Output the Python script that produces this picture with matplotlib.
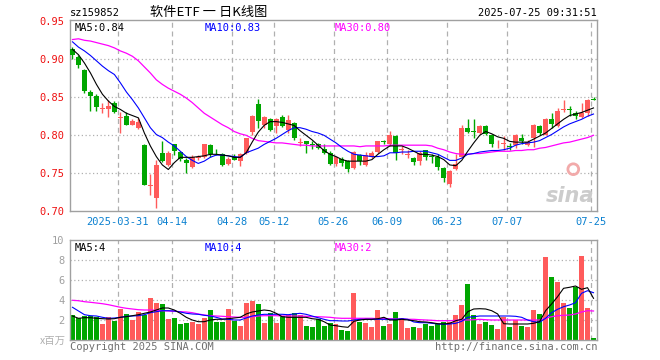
import matplotlib
matplotlib.use('Agg')
import matplotlib.pyplot as plt
import numpy as np

# 软件ETF sz159852, daily candles 2025-03-19 .. 2025-07-25
opens = [0.914, 0.903, 0.886, 0.857, 0.852, 0.835, 0.835, 0.842, 0.823, 0.826,
         0.814, 0.809, 0.787, 0.733, 0.718, 0.777, 0.761, 0.788, 0.778, 0.768,
         0.758, 0.770, 0.771, 0.787, 0.780, 0.775, 0.762, 0.772, 0.766, 0.777,
         0.804, 0.841, 0.813, 0.821, 0.812, 0.824, 0.807, 0.816, 0.790, 0.792,
         0.788, 0.789, 0.782, 0.777, 0.762, 0.769, 0.766, 0.757, 0.774, 0.761,
         0.771, 0.778, 0.793, 0.788, 0.799, 0.781, 0.774, 0.770, 0.766, 0.780,
         0.773, 0.772, 0.757, 0.736, 0.756, 0.772, 0.809, 0.805, 0.803, 0.812,
         0.801, 0.788, 0.789, 0.786, 0.787, 0.797, 0.787, 0.797, 0.812, 0.801,
         0.822, 0.812, 0.833, 0.835, 0.829, 0.824, 0.829, 0.848]
highs = [0.916, 0.905, 0.887, 0.860, 0.854, 0.843, 0.847, 0.845, 0.831, 0.831,
         0.821, 0.823, 0.788, 0.749, 0.768, 0.792, 0.779, 0.789, 0.779, 0.770,
         0.774, 0.774, 0.789, 0.789, 0.782, 0.777, 0.771, 0.775, 0.777, 0.797,
         0.827, 0.848, 0.826, 0.823, 0.823, 0.827, 0.827, 0.818, 0.796, 0.793,
         0.792, 0.790, 0.788, 0.779, 0.772, 0.771, 0.767, 0.779, 0.775, 0.778,
         0.779, 0.793, 0.794, 0.805, 0.801, 0.786, 0.780, 0.771, 0.779, 0.781,
         0.775, 0.775, 0.758, 0.755, 0.775, 0.814, 0.821, 0.821, 0.814, 0.813,
         0.802, 0.794, 0.799, 0.790, 0.802, 0.802, 0.794, 0.815, 0.813, 0.823,
         0.829, 0.836, 0.846, 0.838, 0.832, 0.843, 0.848, 0.850]
lows = [0.900, 0.888, 0.856, 0.832, 0.832, 0.830, 0.824, 0.829, 0.803, 0.813,
        0.813, 0.808, 0.734, 0.721, 0.705, 0.765, 0.759, 0.774, 0.766, 0.750,
        0.757, 0.768, 0.770, 0.772, 0.774, 0.760, 0.761, 0.767, 0.759, 0.775,
        0.800, 0.809, 0.810, 0.805, 0.803, 0.811, 0.803, 0.794, 0.786, 0.777,
        0.782, 0.782, 0.775, 0.761, 0.760, 0.759, 0.752, 0.756, 0.761, 0.760,
        0.770, 0.777, 0.788, 0.786, 0.768, 0.775, 0.770, 0.761, 0.761, 0.768,
        0.764, 0.755, 0.739, 0.732, 0.755, 0.771, 0.803, 0.797, 0.802, 0.800,
        0.784, 0.783, 0.780, 0.781, 0.783, 0.789, 0.786, 0.784, 0.801, 0.800,
        0.810, 0.811, 0.831, 0.825, 0.821, 0.823, 0.826, 0.846]
closes = [0.905, 0.893, 0.858, 0.852, 0.837, 0.836, 0.838, 0.831, 0.824, 0.814,
          0.819, 0.818, 0.735, 0.734, 0.761, 0.766, 0.777, 0.779, 0.769, 0.763,
          0.772, 0.772, 0.788, 0.775, 0.779, 0.761, 0.769, 0.768, 0.775, 0.796,
          0.826, 0.819, 0.824, 0.807, 0.821, 0.812, 0.820, 0.796, 0.791, 0.789,
          0.787, 0.783, 0.777, 0.762, 0.771, 0.764, 0.756, 0.778, 0.766, 0.774,
          0.777, 0.792, 0.791, 0.800, 0.777, 0.782, 0.775, 0.765, 0.777, 0.772,
          0.772, 0.758, 0.744, 0.753, 0.762, 0.809, 0.804, 0.804, 0.812, 0.802,
          0.789, 0.789, 0.790, 0.785, 0.800, 0.793, 0.791, 0.813, 0.803, 0.822,
          0.815, 0.832, 0.834, 0.833, 0.826, 0.829, 0.847, 0.847]

ma5 = [0.913, 0.906, 0.895, 0.882, 0.867, 0.854, 0.845, 0.838, 0.834, 0.829,
       0.826, 0.823, 0.803, 0.786, 0.772, 0.761, 0.755, 0.764, 0.771, 0.771,
       0.771, 0.772, 0.773, 0.775, 0.775, 0.774, 0.773, 0.771, 0.771, 0.777,
       0.791, 0.804, 0.813, 0.818, 0.818, 0.817, 0.815, 0.813, 0.806, 0.800,
       0.794, 0.787, 0.780, 0.775, 0.772, 0.768, 0.766, 0.766, 0.766, 0.766,
       0.768, 0.775, 0.781, 0.786, 0.786, 0.786, 0.783, 0.779, 0.775, 0.775,
       0.774, 0.772, 0.768, 0.761, 0.760, 0.767, 0.779, 0.790, 0.800, 0.805,
       0.802, 0.798, 0.796, 0.792, 0.791, 0.791, 0.791, 0.795, 0.799, 0.803,
       0.809, 0.815, 0.821, 0.826, 0.828, 0.830, 0.833, 0.836]
ma10 = [0.923, 0.916, 0.911, 0.905, 0.898, 0.891, 0.885, 0.880, 0.869, 0.857,
        0.847, 0.836, 0.823, 0.810, 0.801, 0.797, 0.791, 0.786, 0.779, 0.772,
        0.767, 0.763, 0.766, 0.771, 0.774, 0.774, 0.773, 0.772, 0.771, 0.777,
        0.780, 0.783, 0.788, 0.792, 0.796, 0.801, 0.806, 0.810, 0.810, 0.808,
        0.805, 0.803, 0.800, 0.795, 0.790, 0.784, 0.779, 0.775, 0.774, 0.773,
        0.772, 0.772, 0.773, 0.777, 0.777, 0.778, 0.778, 0.779, 0.779, 0.779,
        0.777, 0.775, 0.771, 0.767, 0.767, 0.770, 0.775, 0.776, 0.778, 0.779,
        0.780, 0.780, 0.781, 0.783, 0.787, 0.789, 0.790, 0.791, 0.793, 0.797,
        0.801, 0.806, 0.811, 0.815, 0.818, 0.821, 0.825, 0.828]
ma30 = [0.926, 0.927, 0.925, 0.924, 0.922, 0.920, 0.918, 0.915, 0.911, 0.908,
        0.904, 0.898, 0.890, 0.882, 0.873, 0.867, 0.862, 0.858, 0.854, 0.849,
        0.843, 0.836, 0.829, 0.824, 0.819, 0.814, 0.810, 0.805, 0.802, 0.800,
        0.796, 0.793, 0.792, 0.791, 0.790, 0.790, 0.789, 0.788, 0.787, 0.787,
        0.786, 0.786, 0.786, 0.786, 0.786, 0.786, 0.786, 0.786, 0.785, 0.786,
        0.786, 0.786, 0.786, 0.787, 0.787, 0.787, 0.787, 0.787, 0.787, 0.787,
        0.786, 0.783, 0.781, 0.778, 0.776, 0.775, 0.775, 0.776, 0.776, 0.777,
        0.778, 0.779, 0.779, 0.779, 0.780, 0.780, 0.781, 0.781, 0.783, 0.784,
        0.786, 0.788, 0.790, 0.791, 0.793, 0.795, 0.797, 0.800]

# volume, x 百万
vol = [2.50, 2.17, 2.40, 2.40, 2.33, 1.60, 2.27, 1.93, 3.10, 2.57,
       2.00, 2.83, 2.50, 4.17, 3.73, 3.60, 2.07, 2.23, 1.60, 1.67,
       1.83, 1.60, 2.17, 3.00, 1.83, 1.83, 3.10, 1.93, 1.40, 3.73,
       3.90, 3.60, 1.67, 2.67, 1.67, 2.40, 2.50, 2.67, 2.50, 1.40,
       1.27, 2.07, 1.40, 1.67, 1.57, 1.00, 0.90, 4.73, 1.83, 1.73,
       1.33, 3.00, 1.40, 1.60, 2.80, 2.17, 1.23, 1.30, 1.20, 1.57,
       1.40, 1.57, 1.83, 1.83, 2.50, 3.50, 5.60, 2.50, 1.60, 1.80,
       1.50, 1.10, 2.33, 1.30, 2.00, 1.40, 1.30, 3.00, 2.60, 8.33,
       6.30, 5.80, 3.70, 3.23, 5.30, 8.40, 3.20, 0.20]
vma5 = [2.40, 2.17, 2.23, 2.23, 2.17, 2.13, 2.10, 2.13, 2.27, 2.33,
        2.43, 2.53, 2.67, 2.80, 3.00, 3.20, 3.20, 3.00, 2.67, 2.27,
        2.00, 1.83, 1.83, 2.00, 2.07, 2.07, 2.13, 2.20, 2.27, 2.60,
        2.80, 2.90, 3.00, 2.93, 2.67, 2.33, 2.27, 2.27, 2.27, 2.27,
        2.13, 2.07, 1.83, 1.50, 1.43, 1.33, 1.27, 1.87, 2.00, 2.07,
        2.07, 2.13, 2.27, 2.00, 2.00, 2.07, 2.00, 1.93, 1.83, 1.80,
        1.73, 1.63, 1.60, 1.67, 1.93, 2.07, 2.83, 3.10, 3.13, 3.10,
        2.93, 2.60, 1.63, 1.60, 1.60, 1.60, 1.60, 1.67, 1.83, 2.93,
        3.60, 4.33, 5.17, 5.27, 5.40, 5.07, 5.23, 4.17]
vma10 = [3.27, 2.90, 2.53, 2.43, 2.40, 2.27, 2.17, 2.20, 2.27, 2.37,
         2.40, 2.43, 2.53, 2.73, 2.83, 2.93, 2.93, 2.90, 2.80, 2.67,
         2.60, 2.57, 2.47, 2.40, 2.27, 2.10, 2.07, 2.00, 2.00, 2.20,
         2.40, 2.50, 2.57, 2.57, 2.57, 2.57, 2.53, 2.60, 2.67, 2.57,
         2.40, 2.23, 2.07, 1.93, 1.93, 1.90, 1.90, 2.00, 2.07, 2.07,
         2.07, 2.07, 2.07, 2.07, 2.07, 2.13, 2.07, 1.80, 1.73, 1.73,
         1.67, 1.60, 1.57, 1.60, 1.67, 1.87, 2.27, 2.33, 2.40, 2.40,
         2.40, 2.40, 2.40, 2.40, 2.37, 2.27, 2.00, 1.83, 1.77, 2.17,
         2.73, 3.07, 3.33, 3.50, 3.73, 4.67, 4.93, 4.73]
vma30 = [3.97, 3.93, 3.83, 3.77, 3.70, 3.63, 3.53, 3.40, 3.27, 3.17,
         3.10, 3.03, 3.00, 3.00, 2.97, 2.93, 2.90, 2.87, 2.83, 2.80,
         2.73, 2.60, 2.50, 2.43, 2.40, 2.37, 2.33, 2.30, 2.27, 2.27,
         2.33, 2.40, 2.43, 2.43, 2.43, 2.40, 2.40, 2.40, 2.40, 2.37,
         2.33, 2.33, 2.30, 2.27, 2.20, 2.17, 2.17, 2.17, 2.17, 2.17,
         2.17, 2.13, 2.13, 2.13, 2.10, 2.10, 2.07, 2.07, 2.03, 2.00,
         1.97, 1.93, 1.93, 1.93, 1.97, 2.00, 2.00, 2.03, 2.07, 2.03,
         2.00, 2.00, 2.00, 2.00, 2.00, 2.00, 2.00, 2.00, 2.00, 2.17,
         2.33, 2.43, 2.47, 2.50, 2.60, 2.80, 2.93, 2.90]

tick_idx = [8, 17, 27, 34, 44, 53, 63, 73, 87]
tick_labels = ['2025-03-31', '04-14', '04-28', '05-12', '05-26',
               '06-09', '06-23', '07-07', '07-25']
price_ticks = [0.70, 0.75, 0.80, 0.85, 0.90, 0.95]
vol_ticks = [2, 4, 6, 8, 10]

RED = '#ff5b5b'
GREEN = '#00a600'
GRAY = '#a0a0a0'
MONO = 'DejaVu Sans Mono'

W, H = 660, 360


def box(l, t, r, b):
    return [l / W, 1 - b / H, (r - l) / W, (b - t) / H]


o = np.array(opens)
c = np.array(closes)
hi = np.array(highs)
lo = np.array(lows)
n = len(o)
x = np.arange(n)
up = c >= o
cols = np.where(up, RED, GREEN)
edge = 5 / 12  # candle left edge sits on the grid line
bw = 5 / 6

fig = plt.figure(figsize=(6.6, 3.6), dpi=100)

ax = fig.add_axes(box(70, 20, 597, 211.3))
ax2 = fig.add_axes(box(70, 240, 597, 340))

for a in (ax, ax2):
    a.set_xlim(-edge, n - edge)
    for s in a.spines.values():
        s.set_color(GRAY)
        s.set_linewidth(1)
    for t in tick_idx:
        a.axvline(t - edge, color='#b0b0b0', lw=0.9, ls=(0, (4, 3)), zorder=0)
    a.tick_params(length=0)

# price panel
ax.set_ylim(0.70, 0.70 + (211.3 - 20) / 760)
ax.set_yticks(price_ticks)
ax.set_yticklabels(['%.2f' % v for v in price_ticks], color='#ee1111',
                   fontfamily=MONO, fontsize=7.5)
for v in price_ticks[1:-1]:
    ax.axhline(v, color='#b0b0b0', lw=0.9, ls=(0, (1, 2)), zorder=0)
ax.set_xticks(np.array(tick_idx) - edge)
ax.set_xticklabels(tick_labels, color='#0a80d0', fontfamily=MONO, fontsize=7.5)
ax.tick_params(axis='x', pad=4)
ax.tick_params(axis='y', pad=4)

ax.vlines(x, lo, hi, colors=cols, lw=1, zorder=2)
body = np.maximum(np.abs(c - o), 0.0008)
ax.bar(x, body, bottom=np.minimum(o, c), width=bw, color=cols, lw=0, zorder=3)

ax.plot(x, ma30, color='#ff00ff', lw=0.9, zorder=4)
ax.plot(x, ma10, color='#0000ff', lw=0.8, zorder=4)
ax.plot(x, ma5, color='black', lw=0.8, zorder=4)

ax.text(5 / 527, 0.985, 'MA5:%.2f' % ma5[-1], transform=ax.transAxes,
        va='top', fontfamily=MONO, fontsize=7.5, color='black')
ax.text(135 / 527, 0.985, 'MA10:%.2f' % ma10[-1], transform=ax.transAxes,
        va='top', fontfamily=MONO, fontsize=7.5, color='#0000ff')
ax.text(265 / 527, 0.985, 'MA30:%.2f' % ma30[-1], transform=ax.transAxes,
        va='top', fontfamily=MONO, fontsize=7.5, color='#ff00ff')

# sina watermark
ax.text(0.995, 0.03, 'sina', transform=ax.transAxes, ha='right', va='bottom',
        fontsize=15, fontweight='bold', style='italic', color='#cccccc', zorder=1)
ax.scatter([0.955], [0.22], s=60, transform=ax.transAxes, color='none',
           edgecolors='#f2aaaa', lw=2, zorder=1)

# volume panel
ax2.set_ylim(0, 10)
ax2.set_yticks(vol_ticks)
ax2.set_yticklabels([str(v) for v in vol_ticks], color=GRAY,
                    fontfamily=MONO, fontsize=7.5)
ax2.tick_params(axis='y', pad=4)
ax2.set_xticks([])
for v in vol_ticks[:-1]:
    ax2.axhline(v, color='#b0b0b0', lw=0.9, ls=(0, (1, 2)), zorder=0)
ax2.bar(x, vol, width=bw, color=cols, lw=0, zorder=2)
ax2.plot(x, vma30, color='#ff00ff', lw=0.9, zorder=4)
ax2.plot(x, vma10, color='#0000ff', lw=0.8, zorder=4)
ax2.plot(x, vma5, color='black', lw=0.8, zorder=4)

ax2.text(5 / 527, 0.97, 'MA5:%d' % int(vma5[-1]), transform=ax2.transAxes,
         va='top', fontfamily=MONO, fontsize=7.5, color='black')
ax2.text(135 / 527, 0.97, 'MA10:%d' % int(vma10[-1]), transform=ax2.transAxes,
         va='top', fontfamily=MONO, fontsize=7.5, color='#0000ff')
ax2.text(265 / 527, 0.97, 'MA30:%d' % int(vma30[-1]), transform=ax2.transAxes,
         va='top', fontfamily=MONO, fontsize=7.5, color='#ff00ff')

# header / footer texts
fig.text(70 / W, 1 - 13 / H, 'sz159852', va='center', fontfamily=MONO,
         fontsize=7.5, color='black')
fig.text(150 / W, 1 - 12 / H, '软件ETF 一 日K线图', va='center',
         family=['Noto Sans CJK SC', 'DejaVu Sans'], fontsize=9.5, color='black')
fig.text(597 / W, 1 - 13 / H, '2025-07-25 09:31:51', va='center', ha='right',
         fontfamily=MONO, fontsize=7.5, color='black')
fig.text(66 / W, 1 - 341 / H, 'x百万', va='center', ha='right',
         family=['Noto Sans CJK SC', 'DejaVu Sans'], fontsize=7.5, color='#b0b0b0')
fig.text(70 / W, 1 - 347 / H, 'Copyright 2025 SINA.COM', va='center',
         fontfamily=MONO, fontsize=7.5, color='#707070')
fig.text(597 / W, 1 - 347 / H, 'http://finance.sina.com.cn', va='center',
         ha='right', fontfamily=MONO, fontsize=7.5, color='#707070')

fig.savefig('out.png', dpi=100)
